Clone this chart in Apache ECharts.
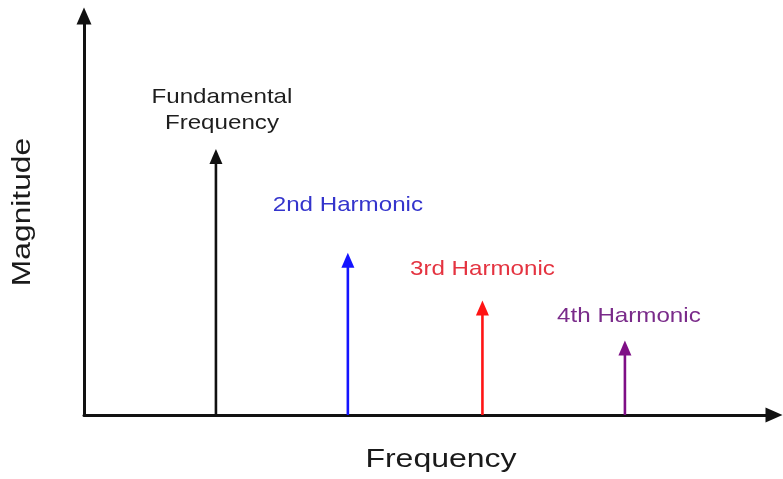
<!DOCTYPE html>
<html>
<head>
<meta charset="utf-8">
<script src="https://cdn.jsdelivr.net/npm/echarts@6/dist/echarts.min.js"></script>
<style>
  html, body { margin: 0; padding: 0; background: #ffffff; }
  #chart { width: 783px; height: 479px; }
</style>
</head>
<body>
<div id="chart"></div>
<script>
// Spectrum lines: frequency (in multiples of the fundamental) and relative magnitude
const names = ['Fundamental\nFrequency', '2nd Harmonic', '3rd Harmonic', '4th Harmonic'];
const frequencies = [1.0, 2.0, 3.02, 4.1];
const magnitudes = [1.0, 0.61, 0.43, 0.28];

// Colours for each spectral line and its caption
const lineColors = ['#111111', '#1414ff', '#ff1414', '#7f0f86'];
const textColors = ['#1e1e1e', '#3434cc', '#e43340', '#7a2b8a'];

// Caption placement relative to the arrow tip: [dx, lift above tip]
const captionPlacement = [[6, 39], [0, 48], [0, 31], [4, 24]];

const chart = echarts.init(document.getElementById('chart'), null, { renderer: 'canvas' });

const FONT = '"Liberation Sans", Arial, sans-serif';

const axisLineStyle = {
  show: true,
  lineStyle: { color: '#111', width: 3 },
  symbol: ['none', 'triangle'],
  symbolSize: [15, 17]
};

const option = {
  backgroundColor: '#ffffff',
  animation: false,
  grid: { left: 84, right: 9, top: 16, bottom: 64 },
  xAxis: {
    type: 'value', min: 0, max: 5.23,
    axisLine: axisLineStyle,
    axisTick: { show: false }, axisLabel: { show: false }, splitLine: { show: false }
  },
  yAxis: {
    type: 'value', min: 0, max: 1.5,
    axisLine: axisLineStyle,
    axisTick: { show: false }, axisLabel: { show: false }, splitLine: { show: false }
  },
  graphic: [
    {
      type: 'text', x: 441, y: 460,
      style: { text: 'Frequency', font: '25px ' + FONT, fill: '#1a1a1a', align: 'center', verticalAlign: 'middle' },
      scaleX: 1.28
    },
    {
      type: 'text', x: 23, y: 212, rotation: Math.PI / 2,
      style: { text: 'Magnitude', font: '25px ' + FONT, fill: '#1a1a1a', align: 'center', verticalAlign: 'middle' },
      scaleX: 1.27
    }
  ],
  series: [{
    type: 'custom',
    coordinateSystem: 'cartesian2d',
    data: frequencies.map((f, i) => [f, magnitudes[i]]),
    renderItem: function (params, api) {
      const i = params.dataIndex;
      const base = api.coord([api.value(0), 0]);
      const tip = api.coord([api.value(0), api.value(1)]);
      const headH = 15, headW = 13;
      const color = lineColors[i];
      const place = captionPlacement[i];
      return {
        type: 'group',
        children: [
          {
            type: 'line',
            shape: { x1: base[0], y1: base[1], x2: tip[0], y2: tip[1] + headH - 1 },
            style: { stroke: color, lineWidth: 2.6 }
          },
          {
            type: 'polygon',
            shape: { points: [[tip[0], tip[1]], [tip[0] - headW / 2, tip[1] + headH], [tip[0] + headW / 2, tip[1] + headH]] },
            style: { fill: color }
          },
          {
            type: 'text',
            x: tip[0] + place[0], y: tip[1] - place[1],
            scaleX: 1.15,
            style: {
              text: names[i], fill: textColors[i],
              font: '21px ' + FONT, lineHeight: 26,
              align: 'center', verticalAlign: 'middle'
            }
          }
        ]
      };
    }
  }]
};

chart.setOption(option);
</script>
</body>
</html>
